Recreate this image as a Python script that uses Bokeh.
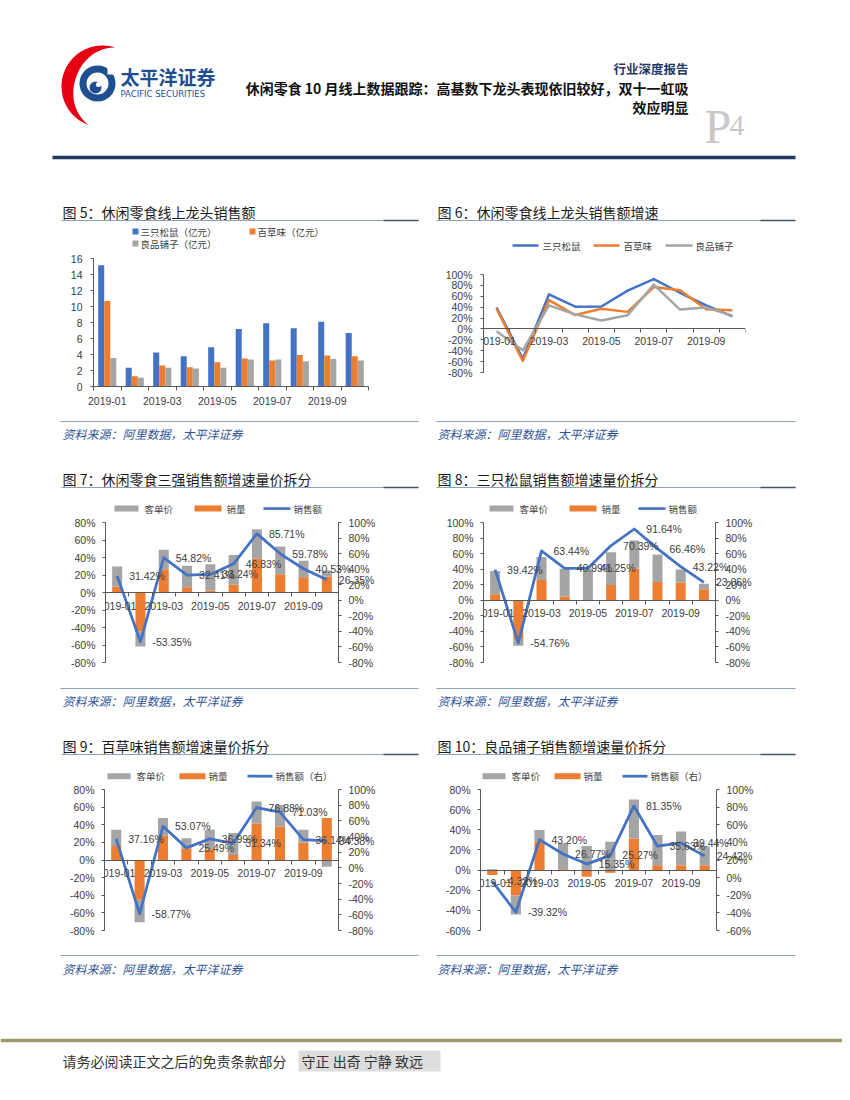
import numpy as np
from bokeh.plotting import figure
from bokeh.models import (Range1d, LinearAxis, FixedTicker, PrintfTickFormatter,
                          LabelSet, ColumnDataSource)
from bokeh.layouts import column, row
from bokeh.core.properties import value
from bokeh.transform import dodge
from bokeh.embed import file_html
from bokeh.resources import INLINE

# ---------------- data ----------------
months = ["2019-01", "2019-02", "2019-03", "2019-04", "2019-05",
          "2019-06", "2019-07", "2019-08", "2019-09", "2019-10"]

# Fig 5: online sales (亿元)
sales_sz = [15.17, 2.33, 4.24, 3.78, 4.90, 7.19, 7.90, 7.27, 8.10, 6.69]
sales_bcw = [10.68, 1.29, 2.62, 2.41, 3.03, 3.49, 3.24, 3.95, 3.87, 3.78]
sales_lp = [3.57, 1.08, 2.33, 2.24, 2.33, 3.37, 3.37, 3.16, 3.45, 3.24]

# sales growth (%)
growth_sz = [39.42, -54.76, 63.44, 40.99, 41.25, 70.39, 91.64, 66.46, 43.22, 23.06]
growth_bcw = [37.16, -58.77, 53.07, 25.49, 36.99, 31.34, 76.88, 71.03, 36.14, 34.38]
growth_lp = [-4.32, -39.32, 43.20, 26.77, 15.35, 25.27, 81.35, 35.63, 39.44, 24.42]
growth_top3 = [31.42, -53.35, 54.82, 32.41, 33.24, 46.83, 85.71, 59.78, 40.53, 26.35]

# volume / unit-price decomposition (%)
vol_top3 = [6.9, -44.6, 26.7, 6.1, 2.3, 8.8, 38.5, 21.0, 17.5, 18.3]
price_top3 = [22.8, -17.1, 22.1, 24.4, 30.1, 34.2, 33.9, 31.6, 18.7, 6.8]
vol_sz = [7.7, -49.9, 26.0, 4.7, 0.5, 19.6, 40.5, 23.5, 23.0, 14.1]
price_sz = [29.8, -8.5, 29.5, 35.8, 40.5, 42.3, 36.3, 35.4, 16.7, 7.2]
vol_bcw = [16.0, -45.0, 27.4, 13.3, 12.2, 5.7, 41.5, 38.1, 19.8, 47.6]
price_bcw = [18.3, -25.5, 20.2, 11.5, 22.1, 24.8, 25.0, 24.4, 14.5, -7.6]
vol_lp = [-5.0, -25.3, 28.3, 0.8, -6.7, -2.7, 31.3, 4.7, 4.7, 4.7]
price_lp = [0.7, -18.8, 11.6, 25.7, 24.0, 28.0, 38.7, 30.0, 33.6, 18.8]

# ---------------- style ----------------
FONT = "Liberation Sans"
CJK = "Noto Sans CJK SC"
BLUE = "#4472C4"
ORANGE = "#ED7D31"
GRAY = "#A5A5A5"
AXIS = "#595959"
TXT = "#404040"
NAVY = "#1F3864"
W = 842
LW, RW = 425, 417   # widths of left / right chart cells

n = len(months)
xs = list(range(n))


def deco(h):
    f = figure(width=W, height=h, x_range=Range1d(0, W), y_range=Range1d(h, 0),
               x_axis_type=None, y_axis_type=None, toolbar_location=None,
               output_backend="svg", min_border=0)
    f.outline_line_color = None
    return f


def txt(f, x, y, s, size, color="#1a1a1a", align="left", font=CJK, style="normal",
        baseline="middle"):
    f.text(x=[x], y=[y], text=[s], text_font=value(font), text_font_size=size,
           text_color=color, text_align=align, text_baseline=baseline,
           text_font_style=style)


def title_block(f, y_txt, y_line, left_text, right_text):
    for (tx, lx0, lx1, s) in ((62, 61, 418, left_text), (437, 436, 795, right_text)):
        f.segment(x0=[lx0], y0=[y_line], x1=[lx1], y1=[y_line], line_color="#8EA0BA",
                  line_width=1)
        f.segment(x0=[lx1 - 35], y0=[y_line], x1=[lx1], y1=[y_line], line_color="#44546A",
                  line_width=1.5)
        txt(f, tx, y_txt, s, "14px")


def source_block(f, y_line, y_txt):
    for (tx, lx0, lx1) in ((62, 60, 418), (437, 436, 795)):
        f.segment(x0=[lx0], y0=[y_line], x1=[lx1], y1=[y_line], line_color="#8EA0BA",
                  line_width=1)
        txt(f, tx, y_txt, "资料来源：阿里数据，太平洋证券", "12px", color="#2F5597",
            style="italic")


def swatch_bar(f, x0, x1, y, color, h=6):
    f.quad(left=[x0], right=[x1], top=[y - h / 2], bottom=[y + h / 2], fill_color=color,
           line_color=None)


def swatch_line(f, x0, x1, y, color, w=2.75):
    f.segment(x0=[x0], y0=[y], x1=[x1], y1=[y], line_color=color, line_width=w)


def style_x(p, standoff, fixed0):
    ax = p.xaxis[0]
    ax.ticker = FixedTicker(ticks=xs[::2], minor_ticks=[i - 0.5 for i in range(n + 1)])
    ax.major_label_overrides = {i: months[i] for i in xs[::2]}
    ax.bounds = (-0.5, n - 0.5)
    ax.major_tick_line_color = None
    ax.major_tick_out = 0
    ax.major_tick_in = 0
    ax.minor_tick_line_color = AXIS
    ax.minor_tick_out = 4
    ax.minor_tick_in = 0
    ax.axis_line_color = AXIS
    ax.major_label_standoff = standoff
    ax.major_label_text_font = FONT
    ax.major_label_text_font_size = "10.5px"
    ax.major_label_text_color = TXT
    if fixed0:
        ax.fixed_location = 0


def style_y(ax, ticks, fmt, standoff=6):
    ax.ticker = FixedTicker(ticks=ticks)
    ax.formatter = PrintfTickFormatter(format=fmt)
    ax.bounds = (ticks[0], ticks[-1])
    ax.minor_tick_line_color = None
    ax.major_tick_out = 3
    ax.major_tick_in = 0
    ax.major_tick_line_color = AXIS
    ax.axis_line_color = AXIS
    ax.major_label_standoff = standoff
    ax.major_label_text_font = FONT
    ax.major_label_text_font_size = "10.5px"
    ax.major_label_text_color = TXT


def base_fig(w, h, bl, br, bt, bb, yr, x_end=None):
    if x_end is None:
        x_end = n - 0.5
    p = figure(width=w, height=h, x_range=Range1d(-0.5, x_end),
               y_range=Range1d(*yr), toolbar_location=None, output_backend="svg",
               min_border_left=bl, min_border_right=br, min_border_top=bt,
               min_border_bottom=bb)
    p.grid.visible = False
    p.outline_line_color = None
    return p


def stack(vol, price):
    vb, vt, pb, pt = [], [], [], []
    for v, pr in zip(vol, price):
        pos = max(v, 0.0)
        neg = min(v, 0.0)
        vb.append(0.0)
        vt.append(v)
        if pr >= 0:
            pb.append(pos)
            pt.append(pos + pr)
        else:
            pb.append(neg)
            pt.append(neg + pr)
    return vb, vt, pb, pt


# ---------------- header (page y 0-195) ----------------
hdr = deco(195)
t = np.linspace(np.radians(72), np.radians(250), 80)
R, cx, cy = 41, 102, 86
wd = 13 * np.sin(np.pi * (t - t[0]) / (t[-1] - t[0]))
ox = cx + R * np.cos(t)
oy = cy - R * np.sin(t)
ix = cx + (R - wd) * np.cos(t)
iy = cy - (R - wd) * np.sin(t)
hdr.patch(np.concatenate([ox, ix[::-1]]), np.concatenate([oy, iy[::-1]]),
          fill_color="#E60012", line_color=None)
hdr.circle(x=[97], y=[83], radius=18, fill_color="#1D4F91", line_color=None)
hdr.circle(x=[97], y=[83], radius=11, fill_color="white", line_color=None)
hdr.circle(x=[95], y=[87], radius=6, fill_color="#1D4F91", line_color=None)
hdr.circle(x=[98], y=[84], radius=2.5, fill_color="white", line_color=None)
hdr.quad(left=[107], right=[117], top=[64], bottom=[74], fill_color="white", line_color=None)
txt(hdr, 120, 76, "太平洋证券", "19px", color="#1D4F91", style="bold")
txt(hdr, 120, 93, "PACIFIC  SECURITIES", "8.5px", color="#1D4F91", font="DejaVu Sans")
txt(hdr, 688, 68, "行业深度报告", "12.5px", color=NAVY, align="right", style="bold")
txt(hdr, 688, 87, "休闲零食 10 月线上数据跟踪：高基数下龙头表现依旧较好，双十一虹吸",
    "14px", color="#111111", align="right", style="bold")
txt(hdr, 688, 106, "效应明显", "14px", color="#111111", align="right", style="bold")
txt(hdr, 704, 126, "P", "48px", color="#C8C8C8", font="Liberation Serif", baseline="alphabetic")
txt(hdr, 729, 125, "4", "30px", color="#C8C8C8", font="Liberation Serif", baseline="alphabetic")
hdr.segment(x0=[52], y0=[157], x1=[795], y1=[157], line_width=3.5, line_color=NAVY)

# ---------------- D1 (page y 195-252): titles + legends of row A ----------------
d1 = deco(57)
title_block(d1, 16, 25, "图 5：休闲零食线上龙头销售额", "图 6：休闲零食线上龙头销售额增速")
swatch_bar(d1, 132, 138, 36, BLUE)
txt(d1, 140, 36, "三只松鼠（亿元）", "9.5px", color=TXT)
swatch_bar(d1, 249, 255, 36, ORANGE)
txt(d1, 257, 36, "百草味（亿元）", "9.5px", color=TXT)
swatch_bar(d1, 132, 138, 48, GRAY)
txt(d1, 140, 48, "良品铺子（亿元）", "9.5px", color=TXT)
swatch_line(d1, 512, 538, 50, BLUE, 2.5)
txt(d1, 542, 50, "三只松鼠", "9.5px", color=TXT)
swatch_line(d1, 593, 619, 50, ORANGE, 2.5)
txt(d1, 623, 50, "百草味", "9.5px", color=TXT)
swatch_line(d1, 665, 692, 50, GRAY, 2.5)
txt(d1, 695, 50, "良品铺子", "9.5px", color=TXT)

# ---------------- Fig 5 ----------------
p5 = base_fig(LW, 164, 93, 57, 6, 30, (0, 16))
s5 = ColumnDataSource(dict(x=xs, sz=sales_sz, bcw=sales_bcw, lp=sales_lp))
p5.vbar(x=dodge("x", -0.22), top="sz", width=0.22, source=s5, fill_color=BLUE, line_color=None)
p5.vbar(x=dodge("x", 0.0), top="bcw", width=0.22, source=s5, fill_color=ORANGE, line_color=None)
p5.vbar(x=dodge("x", 0.22), top="lp", width=0.22, source=s5, fill_color=GRAY, line_color=None)
style_x(p5, 6, False)
style_y(p5.yaxis[0], list(range(0, 17, 2)), "%d", 8)

# ---------------- Fig 6 ----------------
p6 = base_fig(RW, 164, 58, 97, 22, 44, (-80, 100))
s6 = ColumnDataSource(dict(x=xs, sz=growth_sz, bcw=growth_bcw, lp=growth_lp))
p6.line("x", "sz", source=s6, line_width=2.5, line_color=BLUE, line_join="round")
p6.line("x", "bcw", source=s6, line_width=2.5, line_color=ORANGE, line_join="round")
p6.line("x", "lp", source=s6, line_width=2.5, line_color=GRAY, line_join="round")
style_x(p6, 4, True)
style_y(p6.yaxis[0], list(range(-80, 101, 20)), "%d%%", 8)


# ---------------- Fig 7-10 ----------------
BR = 40     # right border; frame extends past the right axis so labels are not clipped
EXT = 7     # frame padding (px) above / below the axes' tick span


def decomp(w, h, bl, axis_px, bt, bb, lr, rr, vol, price, growth):
    frame_w = w - bl - BR
    fh = h - bt - bb
    x_end = -0.5 + n * frame_w / axis_px
    ls = (lr[1] - lr[0]) / fh
    rs = (rr[1] - rr[0]) / fh
    p = base_fig(w, h, bl, BR, bt - EXT, bb - EXT,
                 (lr[0] - EXT * ls, lr[1] + EXT * ls), x_end)
    p.extra_y_ranges = {"r": Range1d(rr[0] - EXT * rs, rr[1] + EXT * rs)}
    vb, vt, pb, pt = stack(vol, price)
    src = ColumnDataSource(dict(x=xs, vb=vb, vt=vt, pb=pb, pt=pt, g=growth,
                                lab=["%.2f%%" % v for v in growth]))
    p.vbar(x="x", bottom="vb", top="vt", width=0.43, source=src, fill_color=ORANGE, line_color=None)
    p.vbar(x="x", bottom="pb", top="pt", width=0.43, source=src, fill_color=GRAY, line_color=None)
    p.line("x", "g", source=src, y_range_name="r", line_width=2.75, line_color=BLUE,
           line_join="round")
    style_x(p, 5, True)
    style_y(p.yaxis[0], list(range(int(lr[0]), int(lr[1]) + 1, 20)), "%d%%", 7)
    rax = LinearAxis(y_range_name="r")
    style_y(rax, list(range(int(rr[0]), int(rr[1]) + 1, 20)), "%d%%", 7)
    rax.fixed_location = n - 0.5
    p.add_layout(rax, "right")
    p.add_layout(LabelSet(x="x", y="g", text="lab", source=src, y_range_name="r",
                          x_offset=12, text_baseline="middle", text_align="left",
                          text_font=value(FONT), text_font_size="10.5px", text_color=TXT))
    return p


p7 = decomp(LW, 172, 105, 233, 8, 24, (-80, 80), (-80, 100), vol_top3, price_top3, growth_top3)
p8 = decomp(RW, 172, 58, 232, 8, 24, (-80, 100), (-80, 100), vol_sz, price_sz, growth_sz)
p9 = decomp(LW, 171, 104, 234, 7, 23, (-80, 80), (-80, 100), vol_bcw, price_bcw, growth_bcw)
p10 = decomp(RW, 171, 55, 236, 7, 23, (-60, 80), (-60, 100), vol_lp, price_lp, growth_lp)

# ---------------- D2 (page y 416-514): sources A + titles/legends B ----------------
d2 = deco(98)
source_block(d2, 5, 17)
title_block(d2, 62, 71, "图 7：休闲零食三强销售额增速量价拆分", "图 8：三只松鼠销售额增速量价拆分")
for off in (0, 375):
    swatch_bar(d2, 114 + off, 138 + off, 92, GRAY)
    txt(d2, 144 + off, 92, "客单价", "9.5px", color=TXT)
    swatch_bar(d2, 194 + off, 221 + off, 92, ORANGE)
    txt(d2, 226 + off, 92, "销量", "9.5px", color=TXT)
    swatch_line(d2, 263 + off, 290 + off, 92, BLUE)
    txt(d2, 293 + off, 92, "销售额", "9.5px", color=TXT)

# ---------------- D3 (page y 686-782): sources B + titles/legends C ----------------
d3 = deco(96)
source_block(d3, 2, 14)
title_block(d3, 59, 68, "图 9：百草味销售额增速量价拆分", "图 10：良品铺子销售额增速量价拆分")
for off in (0, 375):
    swatch_bar(d3, 107 + off, 130 + off, 89.7, GRAY)
    txt(d3, 136 + off, 89.7, "客单价", "9.5px", color=TXT)
    swatch_bar(d3, 179 + off, 205 + off, 89.7, ORANGE)
    txt(d3, 208 + off, 89.7, "销量", "9.5px", color=TXT)
    swatch_line(d3, 247 + off, 272 + off, 89.7, BLUE)
    txt(d3, 275 + off, 89.7, "销售额（右）", "9.5px", color=TXT)

# ---------------- D4 (page y 953-1092): sources C + footer ----------------
d4 = deco(139)
source_block(d4, 2, 15)
d4.segment(x0=[0], y0=[87], x1=[W], y1=[87], line_color="#9E9A6B", line_width=3.5)
d4.quad(left=[298], right=[440], top=[97], bottom=[118], fill_color="#DDDDDD", line_color=None)
txt(d4, 62, 107, "请务必阅读正文之后的免责条款部分", "14px", color="#333333")
txt(d4, 301, 107, "守正 出奇 宁静 致远", "14px", color="#333333")

layout = column(
    column(hdr),
    column(d1),
    row(column(p5), column(p6)),
    column(d2),
    row(column(p7), column(p8)),
    column(d3),
    row(column(p9), column(p10)),
    column(d4),
)

open("out.html", "w").write(file_html(layout, INLINE))
